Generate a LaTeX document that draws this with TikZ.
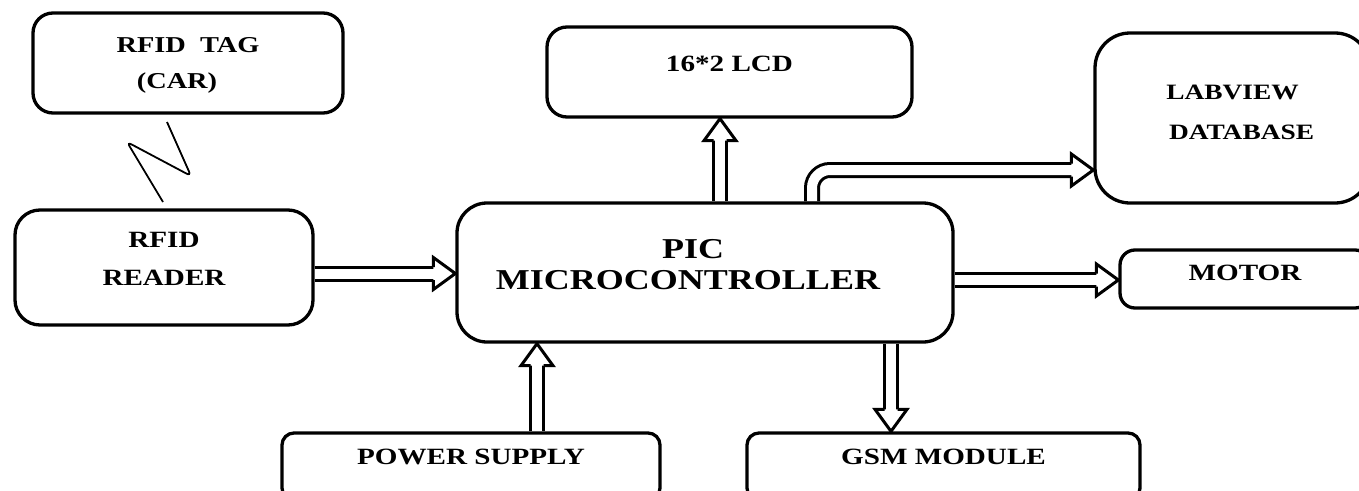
\documentclass[tikz,border=0pt]{standalone}
\usepackage{fontspec}
\setmainfont{Liberation Serif}[FakeStretch=1.25]
\usetikzlibrary{calc,backgrounds}
\newcommand\ahead[2]{%
  \draw[line width=3pt, fill=white, line join=miter]
    ($(#2)!22pt!(#1)!6.5pt!90:(#2)$) -- ($(#2)!22pt!(#1)!16pt!90:(#2)$) -- (#2)
    -- ($(#2)!22pt!(#1)!16pt!-90:(#2)$) -- ($(#2)!22pt!(#1)!6.5pt!-90:(#2)$);}
\newcommand\up[2]{\raisebox{#1}[0pt][0pt]{#2}}
\begin{document}
\begin{tikzpicture}[x=1pt,y=-1pt,
  box/.style={draw, line width=3.3pt, align=center, inner sep=0pt,
    font=\bfseries\fontsize{23.3}{38}\selectfont},
  dbl/.style={draw, line width=3pt, double, double distance=10pt, shorten >=21pt},
  wave/.style={line width=1.8pt, rounded corners=5pt}]
\useasboundingbox (0,0) rectangle (1359,490);
\node[box, minimum width=310pt, minimum height=100pt, rounded corners=20pt,
  font=\bfseries\fontsize{22.7}{36}\selectfont] (tag) at (188,63)
  {\up{-5pt}{\begin{tabular}{@{}c@{}}RFID\ \ TAG\\\hspace*{4pt}(CAR)\hspace*{26pt}\end{tabular}}};
\node[box, minimum width=298pt, minimum height=115pt, rounded corners=25pt] (reader) at (164,267.5)
  {\up{2.6pt}{\begin{tabular}{@{}c@{}}RFID\\READER\end{tabular}}};
\node[box, minimum width=496pt, minimum height=139pt, rounded corners=30pt,
  font=\bfseries\fontsize{28.8}{31}\selectfont] (pic) at (705,272.5)
  {\up{-1.5pt}{\begin{tabular}{@{}c@{}}\hspace*{10pt}PIC\\MICROCONTROLLER\end{tabular}}\hspace*{34pt}};
\node[box, minimum width=365pt, minimum height=90pt, rounded corners=20pt] (lcd) at (729.5,72)
  {\up{0.3pt}{16*2 LCD}};
\node[box, minimum width=275pt, minimum height=170pt, rounded corners=35pt,
  font=\bfseries\fontsize{21.9}{40}\selectfont] (lab) at (1232.5,118)
  {\up{1.2pt}{\begin{tabular}{@{}c@{}}LABVIEW\\\hspace*{18pt}DATABASE\end{tabular}}};
\node[box, minimum width=250pt, minimum height=58pt, rounded corners=15pt] (motor) at (1245,279)
  {\up{-1.7pt}{MOTOR}};
\node[box, minimum width=378pt, minimum height=67pt, rounded corners=12pt] (power) at (471,466.5)
  {\up{1.8pt}{POWER SUPPLY}};
\node[box, minimum width=393pt, minimum height=67pt, rounded corners=12pt] (gsm) at (943.5,466.5)
  {\up{1.8pt}{GSM MODULE}};
\coordinate (r1) at ([yshift=-6pt]reader.east);
\coordinate (r2) at ([yshift=-1pt]pic.west);
\coordinate (c1) at ([xshift=15pt]pic.north);
\coordinate (c2) at ([xshift=-9.5pt]lcd.south);
\coordinate (l1) at ([xshift=107pt]pic.north);
\coordinate (l3) at ([yshift=-52pt]lab.west);
\coordinate (lc) at (l1 |- l3);
\coordinate (m1) at ([yshift=-7.5pt]pic.east);
\coordinate (m2) at ([yshift=-1pt]motor.west);
\coordinate (p1) at ([xshift=66pt]power.north);
\coordinate (p2) at ([xshift=-168pt]pic.south);
\coordinate (g1) at ([xshift=186pt]pic.south);
\coordinate (g2) at ([xshift=-52.5pt]gsm.north);
\begin{scope}[on background layer]
\draw[dbl] (r1) -- (r2); \ahead{r1}{r2}
\draw[dbl] (c1) -- (c2); \ahead{c1}{c2}
\draw[dbl, rounded corners=18pt] (l1) |- (l3); \ahead{lc}{l3}
\draw[dbl] (m1) -- (m2); \ahead{m1}{m2}
\draw[dbl] (p1) -- (p2); \ahead{p1}{p2}
\draw[dbl] (g1) -- (g2); \ahead{g1}{g2}
\end{scope}
\draw[wave] (163,202) -- (127,142) -- (191,176) -- (167,122);
\end{tikzpicture}
\end{document}
